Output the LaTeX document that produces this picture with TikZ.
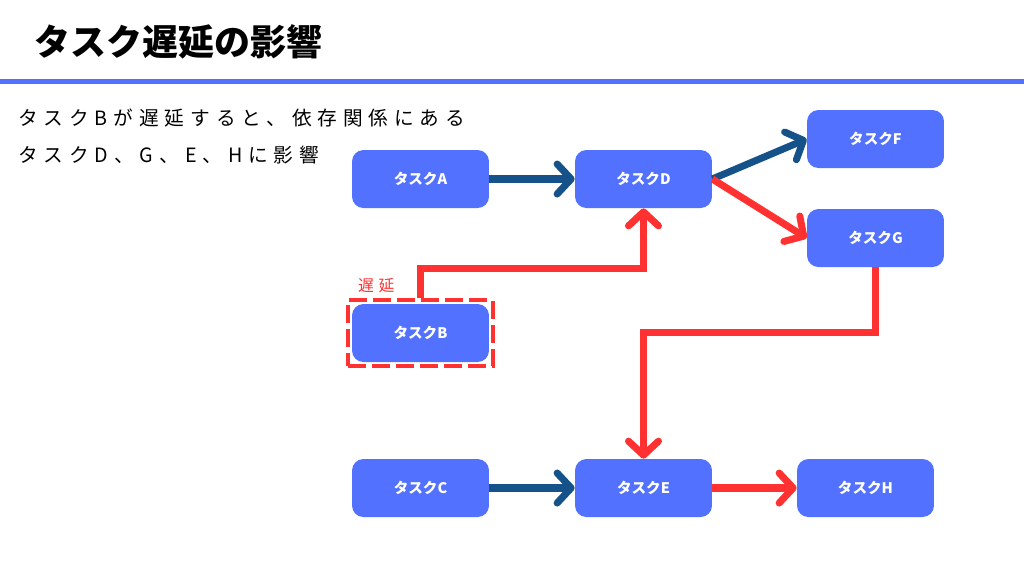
\documentclass[tikz,border=0pt]{standalone}
\usepackage{fontspec}
\setmainfont{Noto Sans CJK JP}
\newfontfamily\spacedfont[LetterSpace=30]{Noto Sans CJK JP}
\usetikzlibrary{arrows.meta,fit}
\definecolor{taskblue}{RGB}{82,113,255}
\definecolor{linkblue}{RGB}{22,82,138}
\definecolor{delayred}{RGB}{255,49,49}

\begin{document}
\begin{tikzpicture}[x=0.02cm, y=-0.02cm,
        task/.style={fill=taskblue, rounded corners=6.5pt, minimum width=2.74cm, minimum height=1.16cm, inner sep=0pt, text=white, font=\bfseries\fontsize{8.3}{10}\selectfont},
        link/.style={line width=4pt, draw=linkblue, -{Straight Barb[round, length=2.8mm, width=6mm]}},
        delay/.style={link, draw=delayred},
        delaybox/.style={draw=delayred, line width=2.4pt, dash pattern=on 0.36cm off 0.12cm, inner sep=2pt}]

        \useasboundingbox (0,0) rectangle (1024,576);

        % heading
        \node[anchor=west, font=\bfseries\fontsize{20.5}{24}\selectfont] (title) at (28,42) {タスク遅延の影響};
        \draw[taskblue, line width=0.1cm] (0,81) -- (1024,81);

        \node[anchor=west, font=\spacedfont\fontsize{11.2}{13}\selectfont] (note1) at (12,118) {タスクBが遅延すると、依存関係にある};
        \node[anchor=west, font=\spacedfont\fontsize{11.2}{13}\selectfont] (note2) at (12,155) {タスクD、G、E、Hに影響};

        % tasks
        \node[task] (a) at (420.5,179) {タスクA};
        \node[task] (d) at (643.5,179) {タスクD};
        \node[task] (f) at (875.5,139) {タスクF};
        \node[task] (g) at (875.5,238) {タスクG};
        \node[task] (b) at (420.5,333) {タスクB};
        \node[task] (c) at (420.5,488) {タスクC};
        \node[task] (e) at (643.5,488) {タスクE};
        \node[task] (h) at (865.5,488) {タスクH};

        \node[delaybox, fit=(b)] (bframe) {};
        \node[anchor=south west, inner sep=1pt, text=delayred, font=\spacedfont\fontsize{9}{11}\selectfont] (late) at ([xshift=0.2cm, yshift=0.06cm]bframe.north west) {遅延};

        % links
        \draw[link] (a) -- (d);
        \draw[link] (c) -- (e);
        \draw[link] (d.east) -- (f.west);
        \draw[delay] (d.east) -- (g.west);
        \draw[delay] (bframe.north) -- ++(0,-30) -| (d.south);
        \draw[delay] (g.south) -- ++(0,65) -| (e.north);
        \draw[delay] (e) -- (h);
\end{tikzpicture}
\end{document}
